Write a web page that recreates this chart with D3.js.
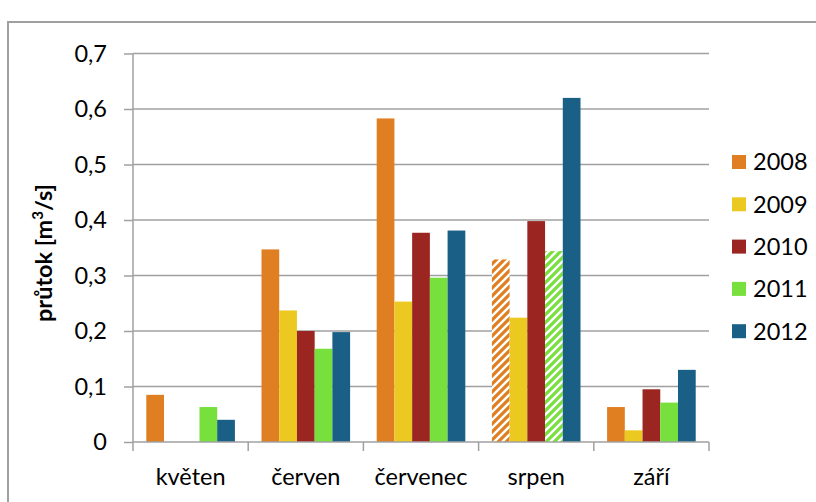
<!DOCTYPE html>
<html><head><meta charset="utf-8">
<script src="https://cdn.jsdelivr.net/npm/d3@7"></script>
<style>body{margin:0;background:#fff}svg{display:block}</style>
</head><body>
<script>
const categories = ["květen","červen","červenec","srpen","září"];
const years = ["2008","2009","2010","2011","2012"];
const v2008 = [0.085, 0.347, 0.583, 0.329, 0.063];
const v2009 = [null, 0.237, 0.253, 0.224, 0.021];
const v2010 = [null, 0.200, 0.377, 0.398, 0.095];
const v2011 = [0.063, 0.168, 0.296, 0.344, 0.071];
const v2012 = [0.040, 0.198, 0.381, 0.620, 0.130];
const hatched = [[false,false,false,true,false],[false,false,false,false,false],[false,false,false,false,false],[false,false,false,true,false],[false,false,false,false,false]];
const yTicks = [0,0.1,0.2,0.3,0.4,0.5,0.6,0.7];
const colors = ["#E07F22","#ECC921","#9B2520","#77E03C","#1A5F85"];
const series = [v2008,v2009,v2010,v2011,v2012];

const W=816,H=502;
const svg=d3.select("body").append("svg").attr("width",W).attr("height",H);
const font="Lato, 'Open Sans', sans-serif";
const FS=23.5;
const defs=svg.append("defs");
years.forEach((y,i)=>{
  const p=defs.append("pattern").attr("id","h"+i).attr("patternUnits","userSpaceOnUse").attr("width",8).attr("height",8);
  p.append("rect").attr("width",8).attr("height",8).attr("fill",colors[i]);
  p.append("path").attr("d","M-2,2L2,-2M0,8L8,0M6,10L10,6").attr("stroke","#fff").attr("stroke-width",2.4);
});

svg.append("rect").attr("x",8).attr("y",22).attr("width",900).attr("height",600).attr("fill","none").attr("stroke","#a0a0a0").attr("stroke-width",2);

const x0=d3.scaleBand().domain(categories).range([133,709]).paddingInner(0).paddingOuter(0);
const x1=d3.scaleBand().domain(years).range([0,x0.bandwidth()]).paddingInner(0).paddingOuter(0.75);
const y=d3.scaleLinear().domain([0,0.7]).range([442,53.5]);

// gridlines
svg.append("g").selectAll("line").data(yTicks.filter(t=>t>0)).join("line")
 .attr("x1",133).attr("x2",709).attr("y1",d=>y(d)).attr("y2",d=>y(d))
 .attr("stroke","#a0a0a0").attr("stroke-width",1.5);

// y axis
const ya=svg.append("g").attr("transform","translate(133,0)")
 .call(d3.axisLeft(y).tickValues(yTicks).tickSize(9).tickPadding(17).tickFormat(d=>d3.format(".1f")(d).replace(".",",").replace(/^0,0$/,"0")));
ya.select(".domain").attr("stroke","#a0a0a0").attr("stroke-width",1.5).attr("d","M0,53.5V442");
ya.selectAll(".tick line").attr("stroke","#a0a0a0").attr("stroke-width",1.5);
ya.selectAll("text").attr("font-family",font).attr("font-size",FS).attr("fill","#000");

// bars
const g=svg.append("g");
categories.forEach((c,ci)=>{
  series.forEach((s,si)=>{
    const v=s[ci]; if(v==null) return;
    g.append("rect").attr("x",x0(c)+x1(years[si])).attr("width",x1.bandwidth())
     .attr("y",y(v)).attr("height",y(0)-y(v))
     .attr("fill",hatched[si][ci]?"url(#h"+si+")":colors[si]);
  });
});

// x axis
const xa=svg.append("g").attr("transform","translate(0,442)").call(d3.axisBottom(x0).tickSize(0));
xa.select(".domain").attr("stroke","#a0a0a0").attr("stroke-width",1.5).attr("d","M133,0H709");
xa.selectAll("text").attr("dy",null).attr("y",43).attr("font-family",font).attr("font-size",FS).attr("fill","#000");
svg.append("g").selectAll("line").data(d3.range(categories.length+1)).join("line")
 .attr("x1",d=>133+d*x0.bandwidth()).attr("x2",d=>133+d*x0.bandwidth())
 .attr("y1",442).attr("y2",451).attr("stroke","#a0a0a0").attr("stroke-width",1.5);

// y title
svg.append("text").attr("transform","translate(52,253) rotate(-90)").attr("text-anchor","middle")
 .attr("font-family",font).attr("font-weight","bold").attr("font-size",FS).attr("fill","#000")
 .html('průtok [m<tspan font-size="15" dy="-9">3</tspan><tspan dy="9">/s]</tspan>');

// legend
const lg=svg.append("g");
years.forEach((yr,i)=>{
  const cy=162+i*42.3;
  lg.append("rect").attr("x",732).attr("y",cy-7).attr("width",14).attr("height",14).attr("fill",colors[i]);
  lg.append("text").attr("x",753).attr("y",cy).attr("dy","0.36em").attr("font-family",font).attr("font-size",FS).attr("fill","#000").text(yr);
});
</script>
</body></html>
